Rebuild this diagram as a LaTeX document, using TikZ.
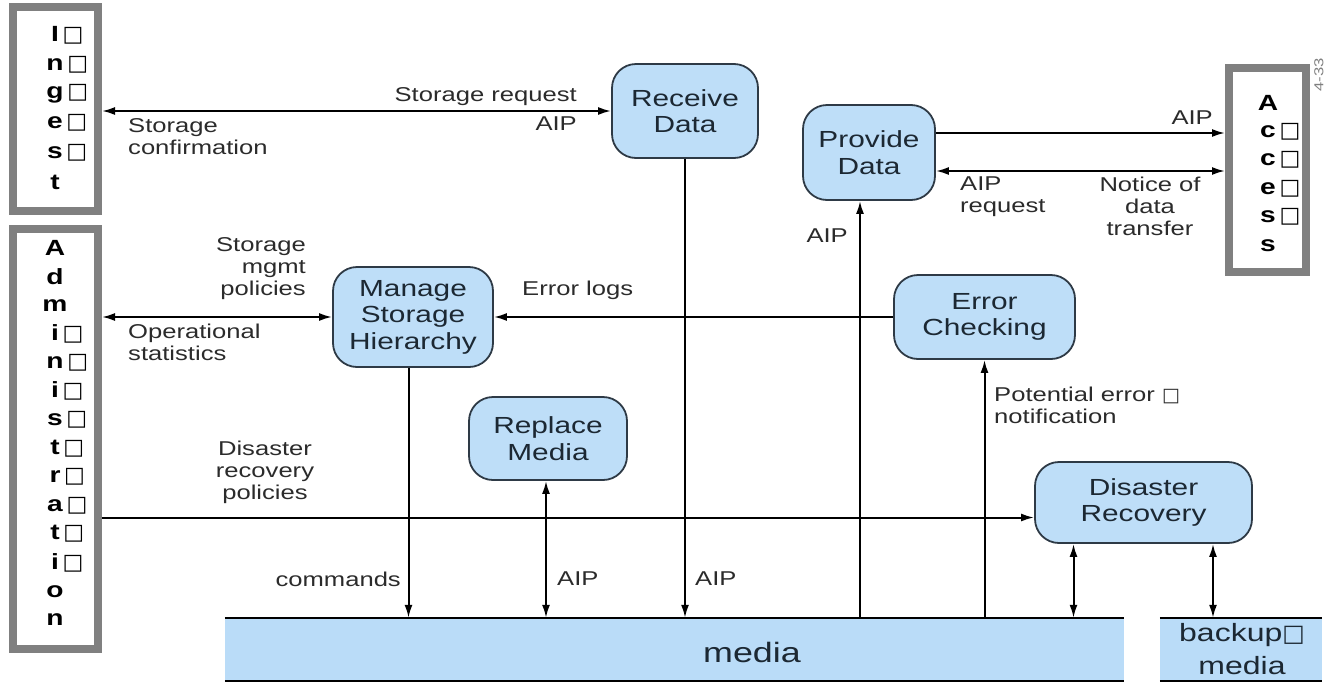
\documentclass[tikz,border=0pt]{standalone}
\usepackage{fontspec}
\setmainfont{Liberation Sans}[FakeStretch=1.28]
\newfontfamily\sqfont{DejaVu Sans}
\usetikzlibrary{arrows.meta}
\definecolor{boxfill}{RGB}{190,222,248}
\definecolor{medfill}{RGB}{186,220,248}
\definecolor{boxline}{RGB}{46,58,70}
\definecolor{boxtext}{RGB}{28,40,51}
\definecolor{labtext}{RGB}{43,43,43}
\definecolor{actgray}{RGB}{128,128,128}
\newcommand\sqb{\scalebox{0.95}{\sqfont □}}
\newcommand\sqa{\scalebox{1.0}{\sqfont\mdseries □}}
\newcommand\actl[2]{\textbf{#1}\ifnum#2=1\rlap{\,\sqa}\fi}
\begin{document}
\begin{tikzpicture}[x=1pt,y=-1pt,
  proc/.style={draw=boxline, line width=1.8pt, fill=boxfill, rounded corners=24pt,
    align=center, text=boxtext, inner sep=0pt,
    font=\fontsize{23.3}{26.5}\selectfont},
  actor/.style={draw=actgray, line width=8pt, fill=white, inner sep=0pt},
  actletter/.style={font=\fontsize{22}{24}\selectfont, text=black, inner sep=0pt},
  store/.style={fill=medfill, inner sep=0pt},
  storetext/.style={text=boxtext, inner sep=0pt, align=center, font=\fontsize{28}{34}\selectfont},
  lab/.style={text=labtext, inner sep=0pt, font=\fontsize{20}{22}\selectfont},
  conn/.style={line width=2pt, draw=black},
  tip/.style={conn, -{Latex[length=13pt,width=8pt]}},
  tips/.style={conn, {Latex[length=13pt,width=8pt]}-{Latex[length=13pt,width=8pt]}}
]
\useasboundingbox (0,0) rectangle (1328,686);

% actors
\node[actor, minimum width=85pt, minimum height=204pt] (ingest) at (55.5,109) {};
\node[actor, minimum width=85pt, minimum height=420pt] (admin) at (55.5,439) {};
\node[actor, minimum width=77pt, minimum height=204pt] (access) at (1267.5,170) {};

\foreach \l/\q [count=\i from 0] in {I/1,n/1,g/1,e/1,s/1,t/0}
  \node[actletter] (ing\i) at (55,35+29.4*\i) {\actl{\l}{\q}};
\foreach \l/\q [count=\i from 0] in {A/0,d/0,m/0,i/1,n/1,i/1,s/1,t/1,r/1,a/1,t/1,i/1,o/0,n/0}
  \node[actletter] (adm\i) at (55,248+28.6*\i) {\actl{\l}{\q}};
\foreach \l/\q [count=\i from 0] in {A/0,c/1,c/1,e/1,s/1,s/0}
  \node[actletter] (acc\i) at (1268,103+28.5*\i) {\actl{\l}{\q}};

\node[rotate=90, text=actgray, font=\fontsize{13}{14}\selectfont, inner sep=0pt] (fig) at (1319,75) {4-33};

% processes
\node[proc, minimum width=146pt, minimum height=94pt] (recv) at (685,111) {Receive\\Data};
\node[proc, minimum width=132pt, minimum height=95pt] (prov) at (869,152.5) {Provide\\Data};
\node[proc, minimum width=160pt, minimum height=100pt] (mgmt) at (413,317) {Manage\\Storage\\Hierarchy};
\node[proc, minimum width=181pt, minimum height=84pt] (err) at (984.5,317) {Error\\Checking};
\node[proc, minimum width=158pt, minimum height=83pt] (repl) at (548,438.5) {Replace\\Media};
\node[proc, minimum width=217pt, minimum height=81pt] (dr) at (1143.5,502.5) {Disaster\\Recovery};

% stores
\node[store, minimum width=899pt, minimum height=63pt] (media) at (674.5,649.5) {};
\node[store, minimum width=162pt, minimum height=63pt] (backup) at (1241,649.5) {};
\draw[conn] (media.north west) -- (media.north east);
\draw[conn] (media.south west) -- (media.south east);
\draw[conn] (backup.north west) -- (backup.north east);
\draw[conn] (backup.south west) -- (backup.south east);
\node[storetext] (mediat) at (752,652) {media};
\node[storetext, font=\fontsize{25}{33}\selectfont] (backupt) at (1242,649) {backup\sqb\\media};

% helper coordinates
\coordinate (pvx) at (860,0);
\coordinate (drl) at (0,517.5);
\coordinate (d1) at (1073.5,0);
\coordinate (d2) at (1213,0);
\coordinate (pa) at (0,133);
\coordinate (pn) at (0,171);
\coordinate (mx) at (408.5,0);
\coordinate (rx) at (546,0);

% connectors
\draw[tips] (recv.west -| ingest.east) -- (recv.west);
\draw[tips] (mgmt.west -| admin.east) -- (mgmt.west);
\draw[tip] (err.west) -- (mgmt.east);
\draw[tip] (mx |- mgmt.south) -- (mx |- media.north);
\draw[tips] (rx |- repl.south) -- (rx |- media.north);
\draw[tip] (recv.south) -- (recv.south |- media.north);
\draw[tip] (pvx |- media.north) -- (pvx |- prov.south);
\draw[tip] (err.south |- media.north) -- (err.south);
\draw[tip] (admin.east |- drl) -- (dr.west |- drl);
\draw[tips] (d1 |- dr.south) -- (d1 |- media.north);
\draw[tips] (d2 |- dr.south) -- (d2 |- backup.north);
\draw[tip] (prov.east |- pa) -- (access.west |- pa);
\draw[tips] (prov.east |- pn) -- (access.west |- pn);

% labels
\node[lab, anchor=east] (l1) at (577,97) {Storage request};
\node[lab, anchor=east] (l2) at (577,124) {AIP};
\node[lab, anchor=north west, align=left] (l3) at (128,118) {Storage\\confirmation};
\node[lab, anchor=east, align=right] (l4) at (306,269) {Storage\\mgmt\\policies};
\node[lab, anchor=west, align=left] (l5) at (128,342) {Operational\\statistics};
\node[lab, align=center] (l6) at (265,472) {Disaster\\recovery\\policies};
\node[lab, anchor=west] (l7) at (522,290) {Error logs};
\node[lab, anchor=east] (l8) at (401,579) {commands};
\node[lab, anchor=west] (l9) at (557,579) {AIP};
\node[lab, anchor=west] (l10) at (695,579) {AIP};
\node[lab, anchor=east] (l11) at (848,236) {AIP};
\node[lab, anchor=west, align=left] (l12) at (994,405) {Potential error \sqb\\notification};
\node[lab, anchor=east] (l13) at (1213,118) {AIP};
\node[lab, anchor=north west, align=left] (l14) at (960,177) {AIP\\request};
\node[lab, anchor=north, align=center] (l15) at (1150,177) {Notice of\\data\\transfer};
\end{tikzpicture}
\end{document}
